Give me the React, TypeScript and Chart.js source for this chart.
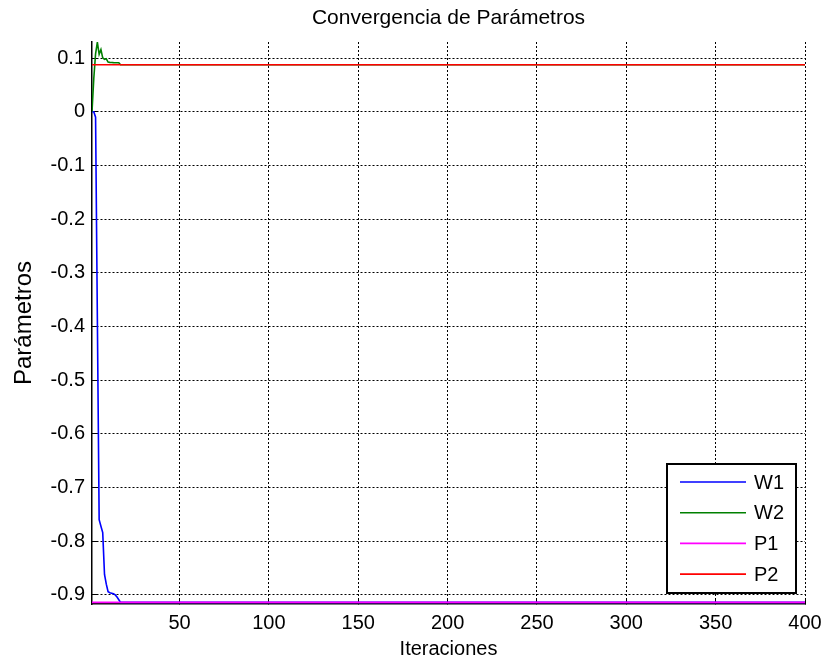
import { useEffect, useRef } from 'react';
import { Chart, registerables } from 'chart.js';

Chart.register(...registerables);

const FONT = "'Liberation Sans', Arial, Helvetica, sans-serif";

// Series labels and colours (drawn in this order, last one on top)
const seriesNames = ['W1', 'W2', 'P1', 'P2'];
const seriesColors = ['#0000ff', '#008000', '#ff00ff', '#ff0000'];

// W1: fast descent during the first iterations, then settles
const w1Iterations = [1, 2, 3, 4, 5, 6, 7, 8, 9, 10, 11, 12, 13, 14, 15, 16, 17, 400];
const w1Values = [0, 0, -0.01, -0.385, -0.76, -0.772, -0.784, -0.862, -0.88, -0.894, -0.896, -0.897, -0.898, -0.9, -0.904, -0.909, -0.914, -0.914];

// W2: overshoot with a few oscillations, then settles
const w2Iterations = [1, 2, 3, 4, 5, 6, 7, 8, 9, 10, 11, 12, 13, 14, 15, 16, 17, 400];
const w2Values = [0, 0.062, 0.108, 0.1296, 0.107, 0.116, 0.1005, 0.0976, 0.0987, 0.0926, 0.092, 0.0917, 0.0915, 0.0914, 0.0913, 0.0913, 0.0875, 0.0875];

// P1, P2: constant reference parameters
const p1Iterations = [1, 400];
const p1Values = [-0.914, -0.914];
const p2Iterations = [1, 400];
const p2Values = [0.0875, 0.0875];

// Axis ticks
const xTickValues = [50, 100, 150, 200, 250, 300, 350, 400];
const xTickLabels = ['50', '100', '150', '200', '250', '300', '350', '400'];
const yTickValues = [-0.9, -0.8, -0.7, -0.6, -0.5, -0.4, -0.3, -0.2, -0.1, 0, 0.1];
const yTickLabels = ['-0.9', '-0.8', '-0.7', '-0.6', '-0.5', '-0.4', '-0.3', '-0.2', '-0.1', '0', '0.1'];

const X_MIN = 1;
const X_MAX = 400;
const Y_MIN = -0.917;
const Y_MAX = 0.13;

const toPoints = (xs: number[], ys: number[]) => xs.map((x, i) => ({ x, y: ys[i] }));

// Boxed legend drawn inside the lower-right corner of the plot area
const insideLegend = {
  id: 'insideLegend',
  afterDatasetsDraw(chart: any) {
    const { ctx, chartArea } = chart;
    const boxW = 129;
    const boxH = 129;
    const right = chartArea.right - 9;
    const bottom = chartArea.bottom - 11;
    const left = right - boxW;
    const top = bottom - boxH;
    ctx.save();
    ctx.fillStyle = '#ffffff';
    ctx.fillRect(left, top, boxW, boxH);
    ctx.strokeStyle = '#000000';
    ctx.lineWidth = 2;
    ctx.strokeRect(left, top, boxW, boxH);
    ctx.font = `20px ${FONT}`;
    ctx.textAlign = 'left';
    ctx.textBaseline = 'middle';
    chart.data.datasets.forEach((ds: any, i: number) => {
      const y = top + 18 + i * 30.7;
      ctx.strokeStyle = ds.borderColor;
      ctx.lineWidth = ds.borderWidth;
      ctx.beginPath();
      ctx.moveTo(left + 13, y);
      ctx.lineTo(left + 79, y);
      ctx.stroke();
      ctx.fillStyle = '#000000';
      ctx.fillText(ds.label, left + 87, y + 1);
    });
    ctx.restore();
  },
};

export default function App() {
  const canvasRef = useRef<HTMLCanvasElement | null>(null);

  useEffect(() => {
    const canvas = canvasRef.current;
    if (!canvas) return;
    const seriesData = [
      toPoints(w1Iterations, w1Values),
      toPoints(w2Iterations, w2Values),
      toPoints(p1Iterations, p1Values),
      toPoints(p2Iterations, p2Values),
    ];
    const chart = new Chart(canvas, {
      type: 'line',
      data: {
        datasets: seriesNames.map((name, i) => ({
          label: name,
          data: seriesData[i],
          borderColor: seriesColors[i],
          backgroundColor: seriesColors[i],
          borderWidth: 1.6,
          pointRadius: 0,
          tension: 0,
          fill: false,
          order: seriesNames.length - 1 - i,
        })),
      },
      options: {
        responsive: false,
        animation: false,
        devicePixelRatio: 1,
        events: [],
        layout: { padding: { left: 0, right: 21, top: 0, bottom: 0 } },
        plugins: {
          legend: { display: false },
          tooltip: { enabled: false },
          title: {
            display: true,
            text: 'Convergencia de Parámetros',
            color: '#000000',
            fullSize: false,
            font: { family: FONT, size: 21, weight: 'normal' },
            padding: { top: 6, bottom: 10.8 },
          },
        },
        scales: {
          x: {
            type: 'linear',
            min: X_MIN,
            max: X_MAX,
            afterBuildTicks: (scale: any) => {
              scale.ticks = xTickValues.map((v) => ({ value: v }));
            },
            afterFit: (scale: any) => {
              scale.height = 58;
              scale.paddingLeft = 0;
              scale.paddingRight = 0;
            },
            ticks: {
              autoSkip: false,
              maxRotation: 0,
              minRotation: 0,
              padding: 13,
              color: '#000000',
              font: { family: FONT, size: 20 },
              callback: (_v: any, i: number) => xTickLabels[i],
            },
            grid: {
              color: '#000000',
              lineWidth: 1,
              drawTicks: true,
              tickLength: -6,
              tickColor: '#000000',
              tickWidth: 1,
              tickBorderDash: [],
            },
            border: { display: true, color: '#000000', width: 1.5, dash: [2, 2] },
            title: {
              display: true,
              text: 'Iteraciones',
              color: '#000000',
              font: { family: FONT, size: 20 },
              padding: { top: 0, bottom: 1 },
            },
          },
          y: {
            type: 'linear',
            min: Y_MIN,
            max: Y_MAX,
            afterBuildTicks: (scale: any) => {
              scale.ticks = yTickValues.map((v) => ({ value: v }));
            },
            afterFit: (scale: any) => {
              scale.width = 92;
              scale.paddingTop = 0;
              scale.paddingBottom = 0;
            },
            ticks: {
              autoSkip: false,
              padding: 13,
              color: '#000000',
              font: { family: FONT, size: 20 },
              callback: (_v: any, i: number) => yTickLabels[i],
            },
            grid: {
              color: '#000000',
              lineWidth: 1,
              drawTicks: true,
              tickLength: -6,
              tickColor: '#000000',
              tickWidth: 1,
              tickBorderDash: [],
            },
            border: { display: true, color: '#000000', width: 1.5, dash: [2, 2] },
            title: {
              display: true,
              text: 'Parámetros',
              color: '#000000',
              font: { family: FONT, size: 24 },
              padding: { top: 10, bottom: 0 },
            },
          },
        },
      },
      plugins: [insideLegend],
    } as any);
    return () => chart.destroy();
  }, []);

  return (
    <div style={{ position: 'absolute', left: 0, top: 0, width: 826, height: 662, background: '#ffffff' }}>
      <canvas ref={canvasRef} width={826} height={662} style={{ display: 'block', width: 826, height: 662 }} />
    </div>
  );
}
